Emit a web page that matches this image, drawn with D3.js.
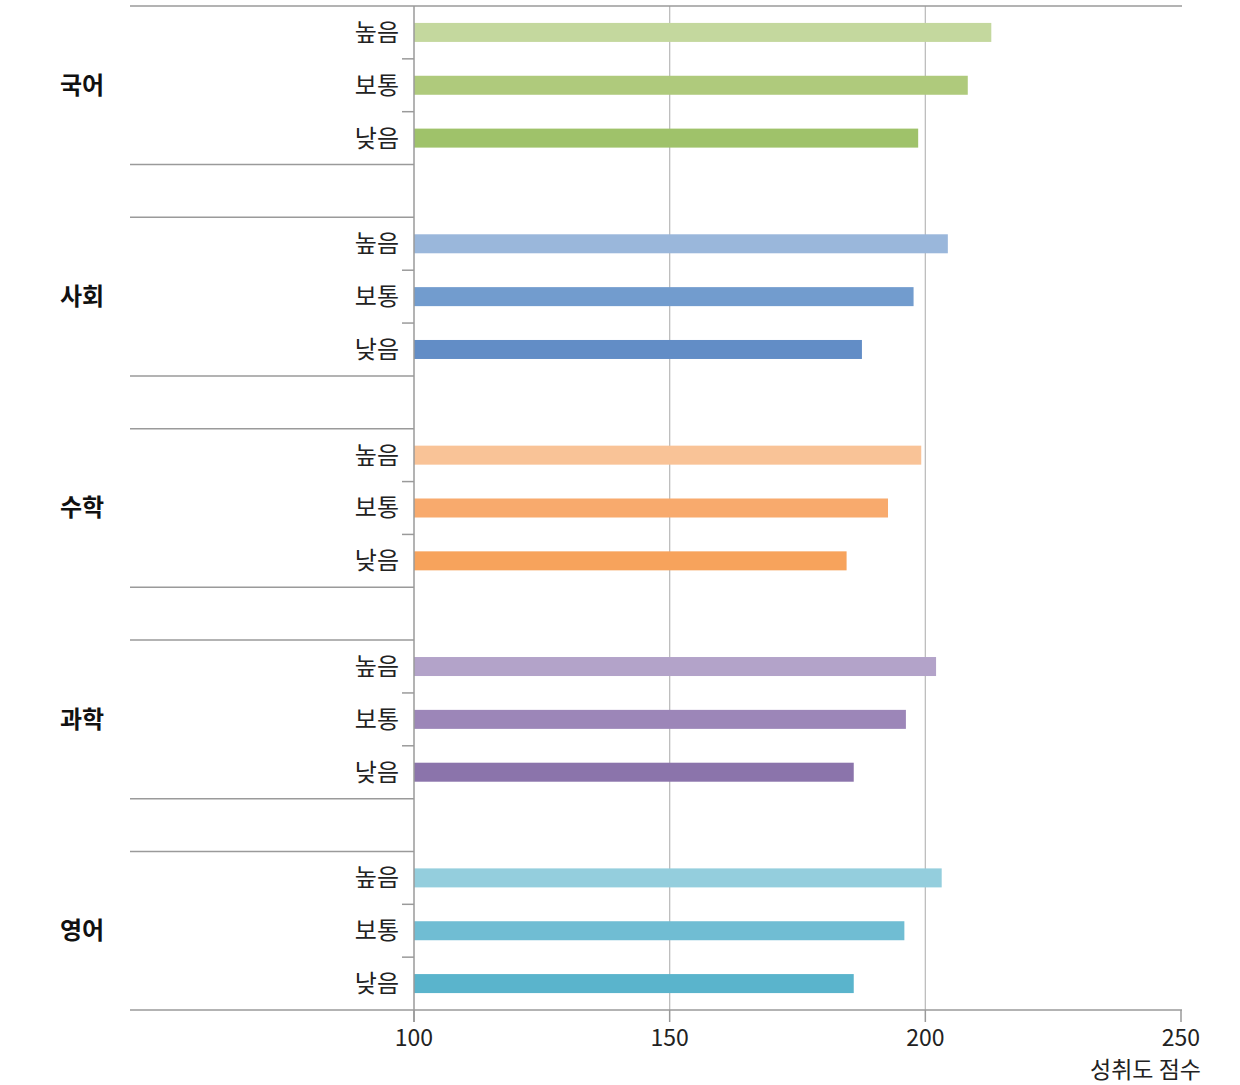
<!DOCTYPE html>
<html><head><meta charset="utf-8">
<script src="https://cdn.jsdelivr.net/npm/d3@7"></script>
<style>body{margin:0;background:#fff;font-family:"Noto Sans CJK KR","Noto Sans",sans-serif;}</style>
</head><body>
<svg id="c" width="1240" height="1085"></svg>
<script>
const subjects = ["국어","사회","수학","과학","영어"];
const levels = ["높음","보통","낮음"];
const values = [
  [212.9, 208.3, 198.6],
  [204.4, 197.7, 187.6],
  [199.2, 192.7, 184.6],
  [202.1, 196.2, 186.0],
  [203.2, 195.9, 186.0]
];
const colors = [
  ["#c4d89e","#afca7c","#9fc26a"],
  ["#9ab7db","#729cce","#628dc6"],
  ["#f9c397","#f8aa6d","#f7a35c"],
  ["#b3a3c9","#9c86b8","#8b74ab"],
  ["#94cedd","#70bdd3","#5ab4cc"]
];
const xTicks = [100,150,200,250];
const xTitle = "성취도 점수";

(function(){
const svg = d3.select("#c");
const pL = 414, pR = 1181, pT = 6, pB = 1010;
const x = d3.scaleLinear().domain([100,250]).range([pL,pR]);

const slots = [];
subjects.forEach((s,g)=>{
  levels.forEach(l=>slots.push(s+"|"+l));
  if(g<subjects.length-1) slots.push("gap"+g);
});
const y = d3.scaleBand().domain(slots).range([pT,pB]).padding(0);
const bw = y.bandwidth();

const axisColor = "#9a9a9a";
svg.append("g").selectAll("line").data(xTicks.filter(t=>t>100 && t<250)).join("line")
  .attr("x1",d=>x(d)).attr("x2",d=>x(d)).attr("y1",pT).attr("y2",pB)
  .attr("stroke","#bdbdbd").attr("stroke-width",1.3);

const data = [];
subjects.forEach((s,g)=>levels.forEach((l,r)=>data.push({s,l,v:values[g][r],c:colors[g][r]})));
const bh = 19;
svg.append("g").selectAll("rect").data(data).join("rect")
  .attr("x",x(100)).attr("y",d=>y(d.s+"|"+d.l)+bw/2-bh/2)
  .attr("width",d=>x(d.v)-x(100)).attr("height",bh)
  .attr("fill",d=>d.c);

const seps = [];
subjects.forEach((s,g)=>{
  seps.push(y(s+"|"+levels[0]));
  seps.push(y(s+"|"+levels[2])+bw);
});
svg.append("g").selectAll("line").data(seps).join("line")
  .attr("x1",130).attr("x2",(d,i)=> (i===0||i===seps.length-1)? pR+1 : pL)
  .attr("y1",d=>d).attr("y2",d=>d)
  .attr("stroke",axisColor).attr("stroke-width",1.5);

svg.append("line").attr("x1",pL).attr("x2",pL).attr("y1",pT).attr("y2",pB+12)
  .attr("stroke",axisColor).attr("stroke-width",1.5);

const inner = [];
subjects.forEach(s=>{ inner.push(y(s+"|"+levels[1])); inner.push(y(s+"|"+levels[2])); });
svg.append("g").selectAll("line").data(inner).join("line")
  .attr("x1",pL-12).attr("x2",pL).attr("y1",d=>d).attr("y2",d=>d)
  .attr("stroke",axisColor).attr("stroke-width",1.5);

svg.append("g").selectAll("line").data(xTicks).join("line")
  .attr("x1",d=>x(d)).attr("x2",d=>x(d)).attr("y1",pB).attr("y2",pB+12)
  .attr("stroke",axisColor).attr("stroke-width",1.5);
svg.append("g").selectAll("text").data(xTicks).join("text")
  .attr("x",d=>x(d)).attr("y",1046).attr("text-anchor","middle")
  .attr("font-size",23).attr("fill","#222").text(d=>d);
svg.append("text").attr("x",1201).attr("y",1078).attr("text-anchor","end")
  .attr("font-size",23).attr("fill","#222").text(xTitle);

svg.append("g").selectAll("text").data(data).join("text")
  .attr("x",399).attr("y",d=>y(d.s+"|"+d.l)+bw/2).attr("dy","0.35em")
  .attr("text-anchor","end").attr("font-size",24).attr("fill","#222").text(d=>d.l);

svg.append("g").selectAll("text").data(subjects).join("text")
  .attr("x",82).attr("y",d=>y(d+"|"+levels[1])+bw/2).attr("dy","0.35em")
  .attr("text-anchor","middle").attr("font-size",24).attr("font-weight","bold").attr("fill","#111").text(d=>d);
})();
</script>
</body></html>
